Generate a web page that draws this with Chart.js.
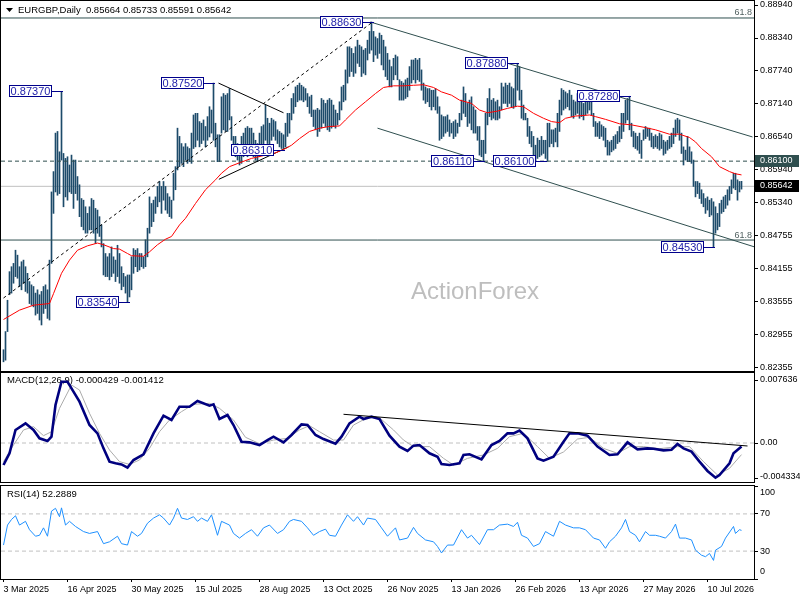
<!DOCTYPE html>
<html><head><meta charset="utf-8">
<script src="https://cdn.jsdelivr.net/npm/chart.js@4.4.1/dist/chart.umd.min.js"></script>
<style>
html,body{margin:0;padding:0;background:#fff;}
#wrap{position:relative;width:800px;height:600px;overflow:hidden;background:#fff;}
canvas{position:absolute;left:0;}
</style></head><body>
<div id="wrap">
<canvas id="cMain" width="800" height="372" style="top:0px"></canvas>
<canvas id="cMacd" width="800" height="111" style="top:372px"></canvas>
<canvas id="cRsi" width="800" height="116" style="top:484px"></canvas>
</div>
<script>
// ---------------- DATA ----------------
const dateLabels = ['3 Mar 2025','16 Apr 2025','30 May 2025','15 Jul 2025','28 Aug 2025','13 Oct 2025','26 Nov 2025','13 Jan 2026','26 Feb 2026','13 Apr 2026','27 May 2026','10 Jul 2026'];
const dateTickIdx = [0,32,64,96,128,160,192,224,256,288,320,352];
const priceTicks = [0.8894,0.8834,0.8774,0.8714,0.8654,0.8594,0.8534,0.84755,0.84155,0.83555,0.82955,0.82355];
const macdTicks = [0.007636,0,-0.004334];
const rsiTicks = [100,70,30,0];

const highs = [
.8267,.8300,.8357,.8409,.8418,.8424,.8448,.8439,.8418,.8427,
.8430,.8418,.8406,.8391,.8385,.8382,.8370,.8376,.8367,.8373,
.8382,.8385,.8376,.8430,.8554,.8591,.8661,.8664,.8627,.8737,
.8624,.8615,.8618,.8603,.8621,.8612,.8612,.8582,.8567,.8542,
.8539,.8527,.8515,.8527,.8542,.8539,.8524,.8521,.8509,.8494,
.8460,.8442,.8436,.8442,.8454,.8436,.8430,.8457,.8442,.8418,
.8406,.8400,.8403,.8403,.8436,.8451,.8448,.8451,.8442,.8442,
.8436,.8467,.8488,.8545,.8533,.8539,.8545,.8564,.8573,.8564,
.8573,.8564,.8551,.8545,.8539,.8588,.8600,.8670,.8655,.8642,
.8636,.8642,.8636,.8633,.8661,.8694,.8697,.8697,.8682,.8679,
.8685,.8673,.8691,.8709,.8703,.8752,.8679,.8658,.8658,.8727,
.8733,.8730,.8733,.8742,.8691,.8655,.8655,.8642,.8636,.8655,
.8661,.8670,.8673,.8670,.8670,.8661,.8648,.8642,.8661,.8673,
.8676,.8712,.8688,.8679,.8688,.8685,.8682,.8667,.8664,.8661,
.8658,.8679,.8697,.8697,.8724,.8733,.8745,.8748,.8752,.8748,
.8745,.8742,.8733,.8727,.8730,.8703,.8703,.8706,.8703,.8724,
.8721,.8715,.8721,.8724,.8721,.8712,.8703,.8697,.8718,.8745,
.8748,.8776,.8818,.8818,.8815,.8806,.8818,.8830,.8821,.8818,
.8812,.8815,.8830,.8846,.8863,.8846,.8836,.8833,.8843,.8839,
.8830,.8818,.8806,.8794,.8782,.8797,.8803,.8800,.8758,.8755,
.8752,.8758,.8761,.8782,.8794,.8794,.8797,.8794,.8797,.8776,
.8752,.8745,.8742,.8742,.8739,.8739,.8742,.8727,.8709,.8694,
.8691,.8691,.8694,.8685,.8679,.8682,.8685,.8679,.8697,.8721,
.8745,.8733,.8715,.8721,.8727,.8709,.8703,.8673,.8673,.8648,
.8648,.8697,.8724,.8742,.8721,.8724,.8718,.8721,.8709,.8752,
.8745,.8752,.8748,.8752,.8745,.8742,.8779,.8788,.8782,.8739,
.8712,.8697,.8688,.8673,.8664,.8655,.8639,.8652,.8648,.8655,
.8648,.8648,.8679,.8679,.8667,.8667,.8670,.8697,.8721,.8742,
.8739,.8736,.8733,.8739,.8730,.8721,.8718,.8733,.8727,.8721,
.8715,.8721,.8721,.8724,.8730,.8697,.8682,.8679,.8682,.8676,
.8673,.8670,.8648,.8645,.8648,.8655,.8658,.8664,.8673,.8697,
.8697,.8721,.8724,.8728,.8679,.8664,.8661,.8655,.8661,.8648,
.8667,.8673,.8670,.8670,.8661,.8655,.8658,.8655,.8661,.8658,
.8648,.8645,.8648,.8655,.8661,.8670,.8685,.8688,.8685,.8661,
.8636,.8630,.8655,.8636,.8627,.8612,.8573,.8573,.8570,.8558,
.8551,.8542,.8545,.8539,.8542,.8536,.8527,.8515,.8533,.8539,
.8545,.8548,.8558,.8564,.8576,.8588,.8588,.8576,.8573,.85733];

const lows = [
.8245,.8248,.8300,.8367,.8370,.8388,.8400,.8397,.8382,.8376,
.8388,.8373,.8370,.8351,.8348,.8345,.8330,.8333,.8321,.8312,
.8333,.8342,.8324,.8321,.8424,.8515,.8554,.8548,.8551,.8612,
.8527,.8545,.8539,.8554,.8551,.8524,.8551,.8539,.8509,.8491,
.8485,.8479,.8479,.8485,.8485,.8479,.8460,.8479,.8473,.8454,
.8403,.8400,.8400,.8394,.8400,.8406,.8391,.8400,.8388,.8376,
.8382,.8370,.8354,.8363,.8376,.8406,.8418,.8409,.8412,.8418,
.8415,.8418,.8436,.8479,.8491,.8500,.8515,.8527,.8536,.8515,
.8539,.8521,.8515,.8509,.8506,.8539,.8558,.8594,.8600,.8606,
.8600,.8612,.8606,.8609,.8606,.8633,.8636,.8648,.8636,.8642,
.8648,.8636,.8648,.8654,.8661,.8648,.8636,.8609,.8609,.8661,
.8667,.8664,.8664,.8685,.8648,.8624,.8618,.8612,.8603,.8606,
.8618,.8624,.8618,.8627,.8636,.8618,.8612,.8609,.8618,.8630,
.8636,.8648,.8642,.8636,.8648,.8655,.8648,.8642,.8636,.8633,
.8633,.8636,.8655,.8661,.8685,.8697,.8709,.8718,.8721,.8721,
.8718,.8721,.8709,.8697,.8691,.8673,.8667,.8655,.8664,.8670,
.8679,.8673,.8667,.8664,.8670,.8673,.8670,.8676,.8685,.8703,
.8718,.8721,.8752,.8764,.8773,.8764,.8770,.8788,.8782,.8764,
.8770,.8767,.8794,.8806,.8812,.8791,.8803,.8797,.8806,.8785,
.8776,.8764,.8758,.8745,.8745,.8758,.8767,.8758,.8721,.8721,
.8721,.8724,.8727,.8739,.8752,.8758,.8752,.8758,.8755,.8739,
.8721,.8715,.8718,.8709,.8703,.8709,.8703,.8697,.8648,.8651,
.8655,.8661,.8664,.8655,.8661,.8651,.8655,.8661,.8673,.8685,
.8697,.8691,.8673,.8679,.8667,.8661,.8661,.8648,.8621,.8618,
.8611,.8624,.8676,.8691,.8685,.8688,.8685,.8685,.8688,.8703,
.8715,.8715,.8709,.8715,.8709,.8706,.8709,.8739,.8721,.8688,
.8685,.8685,.8655,.8642,.8636,.8621,.8612,.8615,.8618,.8621,
.8624,.8615,.8610,.8636,.8642,.8636,.8645,.8636,.8664,.8694,
.8703,.8706,.8709,.8703,.8691,.8688,.8694,.8697,.8688,.8691,
.8685,.8694,.8697,.8703,.8694,.8673,.8655,.8655,.8651,.8655,
.8648,.8636,.8621,.8621,.8627,.8630,.8633,.8642,.8645,.8651,
.8664,.8679,.8685,.8667,.8655,.8636,.8633,.8630,.8624,.8615,
.8648,.8651,.8655,.8648,.8636,.8633,.8636,.8633,.8630,.8633,
.8621,.8624,.8630,.8633,.8636,.8642,.8655,.8661,.8648,.8624,
.8603,.8612,.8609,.8609,.8606,.8564,.8545,.8551,.8542,.8533,
.8527,.8515,.8521,.8509,.8512,.8453,.8479,.8485,.8491,.8515,
.8518,.8524,.8530,.8539,.8551,.8561,.8558,.8539,.8554,.85591];

const maIdx = [0,8,15,23,25,29,33,37,42,47,50,55,58,62,64,70,73,77,81,84,88,91,96,101,106,109,113,118,124,131,136,141,144,148,153,158,163,168,171,176,181,186,190,195,200,205,210,215,219,224,228,234,238,242,247,252,257,260,265,270,274,278,281,286,293,296,301,308,314,321,326,333,338,343,346,349,354,358,363,366,369];
const maVal = [.8322,.8339,.8348,.8351,.8369,.8406,.8430,.8448,.8456,.8461,.8458,.8451,.8450,.8442,.8438,.8437,.8445,.8458,.8468,.8473,.8494,.8506,.8533,.8558,.8576,.8588,.8600,.8607,.8615,.8621,.8625,.8633,.8639,.8651,.8664,.8670,.8673,.8674,.8685,.8703,.8718,.8733,.8744,.8747,.8747,.8748,.8749,.8744,.8736,.8730,.8721,.8715,.8703,.8698,.8701,.8706,.8710,.8709,.8697,.8688,.8682,.8680,.8688,.8692,.8694,.8691,.8686,.8678,.8676,.8671,.8667,.8659,.8659,.8653,.8645,.8633,.8618,.8600,.8591,.8587,.8585];

const macdIdx = [0,3,6,11,15,18,22,24,26,29,32,34,38,43,47,50,53,56,59,62,65,70,75,80,84,88,93,97,103,105,108,112,115,119,123,128,132,135,140,144,149,152,156,160,166,169,173,178,180,184,188,193,198,202,205,208,213,217,219,223,228,230,233,239,244,248,252,255,258,262,267,270,275,280,283,287,292,297,303,307,312,317,322,325,330,334,337,340,344,348,352,356,358,363,365,369];
const macdVal = [-0.00267,-0.00125,0.00158,0.00238,0.00158,0.00057,0.00024,0.00077,0.00461,0.00743,0.00743,0.00663,0.00501,0.00218,0.00117,-0.00065,-0.00226,-0.00246,-0.00259,-0.00299,-0.00206,-0.00137,0.00117,0.00331,0.00279,0.00440,0.00440,0.00509,0.00453,0.00469,0.00291,0.00339,0.00218,0.00016,0.00008,-0.00024,0.00036,0.00077,0.00008,0.00097,0.00226,0.00218,0.00097,0.00048,-0.00008,0.00077,0.00238,0.00319,0.00291,0.00319,0.00291,0.00089,-0.00044,-0.00097,-0.00032,-0.00024,-0.00125,-0.00166,-0.00255,-0.00267,-0.00246,-0.00145,-0.00137,-0.00198,-0.00024,0.00024,0.00117,0.00117,0.00150,0.00057,-0.00186,-0.00214,-0.00166,0.00016,0.00117,0.00117,0.00089,-0.00044,-0.00145,-0.00137,0.00008,-0.00077,-0.00065,-0.00069,-0.00089,-0.00081,-0.00012,-0.00065,-0.00105,-0.00226,-0.00339,-0.00420,-0.00388,-0.00246,-0.00125,-0.00043];

const sigIdx = [0,5,10,15,20,24,28,34,38,43,48,53,58,63,68,73,78,83,89,95,103,108,115,121,128,135,142,148,153,158,165,170,175,182,188,195,200,205,213,220,225,232,240,247,253,260,267,273,280,287,293,300,307,313,320,328,337,343,350,357,363,369];
const sigVal = [-0.00226,-0.00024,0.00158,0.00198,0.00089,0.00137,0.00420,0.00703,0.00642,0.00360,0.00117,-0.00085,-0.00226,-0.00259,-0.00206,-0.00065,0.00137,0.00279,0.00380,0.00469,0.00481,0.00420,0.00279,0.00069,-0.00008,0.00036,0.00057,0.00158,0.00210,0.00137,0.00036,0.00036,0.00218,0.00307,0.00307,0.00158,0.00036,-0.00044,-0.00044,-0.00186,-0.00267,-0.00186,-0.00145,-0.00065,0.00077,0.00117,-0.00044,-0.00186,-0.00109,0.00048,0.00069,-0.00065,-0.00125,-0.00044,-0.00044,-0.00069,-0.00044,-0.00044,-0.00226,-0.00388,-0.00307,-0.00141];

const rsiIdx = [0,2,4,6,8,11,13,16,18,20,22,24,26,28,29,31,33,36,40,43,47,50,53,57,59,62,64,67,69,72,75,78,80,83,85,87,89,92,95,97,99,102,104,107,109,113,115,118,121,124,127,130,133,137,140,143,145,149,152,155,158,161,163,166,169,172,175,177,180,182,186,189,192,196,198,202,205,207,211,215,217,219,222,225,229,232,234,238,242,245,248,252,255,257,259,262,265,268,271,275,278,281,285,288,291,295,298,301,303,306,309,311,313,316,318,321,323,326,328,331,334,336,338,341,344,346,349,351,353,355,356,359,361,365,366,368,369];
const rsiVal = [36.5,58,64,68,58,62,53,46,47,55,46,73,76,67,76.5,58,62,56.5,51,49,51,38,40,46,38,36.5,51,46,49,60,65.5,69,65.5,58,65.5,76,65.5,64,67,62,65.5,62,69,47,62,58,49,44,49,53,46,55,58,49,53,62,64,62,55,47,51,53.6,47,46,58,69,62,67,58,65.5,64,55,46,55,42,44,55.5,49,42,40,35,28,36.5,36.5,53,44,47,37,53,53,58,59,56.5,61,47,44,35,38,51,46,62,58,55,55,53,44,42,33,40,46,55,64,51,47,40,51,47,47,46,44,51,59,44,44,42,31,25.6,24,27.5,20,31,35,44,56.5,49,53,52.29];

// drawn objects (index, price)
const riseLine = [[0,0.8361],[184.5,0.8863]];
const triUpper = [[107.5,0.8752],[140,0.8698]];
const triLower = [[107.7,0.8577],[142.5,0.8636]];
const chanUpper = [[183.5,0.8863],[374.5,0.8654]];
const chanLower = [[187,0.8670],[375.5,0.8454]];
const fibLevels = [0.88704,0.84665];
const supportLevel = 0.8610;
const lastPrice = 0.85642;
const macdTrend = [[170,0.00348],[372,-0.00036]];
const labelIdx = [29,105,184.5,140,62.5,240,271,257,313,355];
const labelPrice = [0.8737,0.8752,0.8863,0.8631,0.8354,0.8611,0.8610,0.8788,0.8728,0.8453];
const headerMain = 'EURGBP,Daily  0.85664 0.85733 0.85591 0.85642';
const headerMacd = 'MACD(12,26,9) -0.000429 -0.001412';
const headerRsi = 'RSI(14) 52.2889';

// ---------------- LAYOUT / STYLE ----------------
const FONT = '"Liberation Sans", Arial, sans-serif';
const X_MIN = -1.25, X_MAX = 375.25;
const P_MIN = 0.82283, P_MAX = 0.89013;
const M_MIN = -0.004727, M_MAX = 0.008485;
const pts = arr => arr.map(p => ({x:p[0], y:p[1]}));
const hline = v => [{x:X_MIN,y:v},{x:X_MAX,y:v}];
const lineDs = (data, color, extra) => Object.assign({type:'line', data, borderColor:color, borderWidth:1, pointRadius:0, fill:false, tension:0}, extra||{});

function xScale(show){
  return {
    type:'linear', min:X_MIN, max:X_MAX, offset:false, display:show,
    grid:{display:show, drawOnChartArea:false, drawTicks:true, tickLength:3, color:'#000', offset:false},
    border:{display:false},
    afterBuildTicks: s => { s.ticks = dateTickIdx.map(v => ({value:v})); },
    afterFit: s => { s.height = show ? 21 : 0; },
    ticks:{autoSkip:false, maxRotation:0, minRotation:0, align:'start', padding:2, color:'#000',
      font:{family:FONT, size:9},
      callback: v => { const k = dateTickIdx.indexOf(v); return k >= 0 ? dateLabels[k] : ''; }}
  };
}
function yScale(min, max, ticks){
  return {
    type:'linear', position:'right', min, max, beginAtZero:false,
    afterBuildTicks: s => { s.ticks = ticks.map(v => ({value:v})); },
    afterFit: s => { s.width = 46; },
    ticks:{display:false},
    grid:{drawOnChartArea:false, drawTicks:true, tickLength:4, color:'#000'},
    border:{display:false}
  };
}
function baseOptions(xShow, ymin, ymax, yt, pad){
  return {
    responsive:false, animation:false, devicePixelRatio:1, events:[],
    layout:{padding:pad},
    plugins:{legend:{display:false}, tooltip:{enabled:false}},
    scales:{x:xScale(xShow), y:yScale(ymin, ymax, yt)}
  };
}
function drawBorder(ctx, a){
  ctx.strokeStyle = '#000'; ctx.lineWidth = 1;
  ctx.strokeRect(a.left - 0.5, a.top - 0.5, a.right - a.left + 1, a.bottom - a.top + 1);
}
function drawAxisLabels(chart, fmt, margin){
  const s = chart.scales.y, ctx = chart.ctx, a = chart.chartArea;
  ctx.font = '9px ' + FONT; ctx.fillStyle = '#000'; ctx.textBaseline = 'middle'; ctx.textAlign = 'left';
  s.ticks.forEach(t => {
    let y = s.getPixelForValue(t.value);
    y = Math.min(Math.max(y, a.top + margin), a.bottom - margin);
    ctx.fillText(fmt(t.value), a.right + 6, y);
  });
}

// ---------------- MAIN PRICE PANE ----------------
const mainOverlay = {
  id:'mainOverlay',
  beforeDatasetsDraw(chart){
    const ctx = chart.ctx; ctx.save();
    ctx.font = '24px ' + FONT; ctx.fillStyle = '#BEBEBE'; ctx.textAlign = 'center'; ctx.textBaseline = 'middle';
    ctx.fillText('ActionForex', 475, 292);
    ctx.restore();
  },
  afterDraw(chart){
    const ctx = chart.ctx, a = chart.chartArea, xs = chart.scales.x, ys = chart.scales.y;
    ctx.save();
    drawBorder(ctx, a);
    // header
    ctx.fillStyle = '#000';
    ctx.beginPath(); ctx.moveTo(6,8); ctx.lineTo(13,8); ctx.lineTo(9.5,12); ctx.closePath(); ctx.fill();
    ctx.font = '9.5px ' + FONT; ctx.textBaseline = 'middle'; ctx.textAlign = 'left';
    ctx.fillText(headerMain, 18, 10);
    // fib labels
    ctx.fillStyle = '#4F5F5F'; ctx.font = '9px ' + FONT; ctx.textAlign = 'right';
    fibLevels.forEach(v => ctx.fillText('61.8', a.right - 2, ys.getPixelForValue(v) - 5));
    // price labels
    ctx.font = '11px ' + FONT; ctx.textAlign = 'center';
    labelIdx.forEach((ix, k) => {
      const px = Math.round(xs.getPixelForValue(ix));
      const py = Math.round(ys.getPixelForValue(labelPrice[k])) + 0.5;
      const right = px - 10, w = 43, h = 12;
      ctx.strokeStyle = '#00008B'; ctx.lineWidth = 1;
      ctx.beginPath(); ctx.moveTo(right, py); ctx.lineTo(px + 1, py); ctx.stroke();
      ctx.fillStyle = '#FFFFFF'; ctx.fillRect(right - w, py - 6.5, w, h);
      ctx.strokeRect(right - w + 0.5, py - 6, w - 1, h - 1);
      ctx.fillStyle = '#1C1CA8'; ctx.textBaseline = 'middle';
      ctx.fillText(labelPrice[k].toFixed(5), right - w / 2, py);
    });
    // axis labels
    drawAxisLabels(chart, v => v.toFixed(5), 0);
    // highlighted axis labels
    [[supportLevel,'#2F4F4F'],[lastPrice,'#000000']].forEach(([v, bg]) => {
      const y = Math.round(ys.getPixelForValue(v));
      ctx.fillStyle = bg; ctx.fillRect(a.right + 1, y - 6, 44, 12);
      ctx.fillStyle = '#FFFFFF'; ctx.font = '9px ' + FONT; ctx.textAlign = 'left'; ctx.textBaseline = 'middle';
      ctx.fillText(v.toFixed(5), a.right + 6, y);
    });
    ctx.restore();
  }
};

new Chart(document.getElementById('cMain'), {
  type:'bar',
  data:{datasets:[
    lineDs(maIdx.map((x,k) => ({x, y:maVal[k]})), '#FF0000', {order:1}),
    lineDs(pts(riseLine), '#000000', {borderDash:[3,3], order:2}),
    lineDs(pts(triUpper), '#000000', {order:2}),
    lineDs(pts(triLower), '#000000', {order:2}),
    lineDs(pts(chanUpper), '#2F4F4F', {order:2}),
    lineDs(pts(chanLower), '#2F4F4F', {order:2}),
    lineDs(hline(fibLevels[0]), '#2F4F4F', {order:3}),
    lineDs(hline(fibLevels[1]), '#2F4F4F', {order:3}),
    lineDs(hline(supportLevel), '#2F4F4F', {borderDash:[4,3], order:3}),
    lineDs(hline(lastPrice), '#C0C0C0', {order:6}),
    {type:'bar', data: highs.map((h,i) => ({x:i, y:[lows[i], h]})), backgroundColor:'#1D4B6A',
     barThickness:1, borderWidth:0, borderSkipped:false, order:5}
  ]},
  options: baseOptions(false, P_MIN, P_MAX, priceTicks, {left:1, right:0, top:1, bottom:1}),
  plugins:[mainOverlay]
});

// ---------------- MACD PANE ----------------
const macdOverlay = {
  id:'macdOverlay',
  beforeDatasetsDraw(chart){
    const ctx = chart.ctx; ctx.save();
    ctx.fillStyle = '#000'; ctx.font = '9.5px ' + FONT; ctx.textBaseline = 'middle'; ctx.textAlign = 'left';
    ctx.fillText(headerMacd, 7, 8);
    ctx.restore();
  },
  afterDraw(chart){
    const ctx = chart.ctx; ctx.save();
    drawBorder(ctx, chart.chartArea);
    drawAxisLabels(chart, v => v === 0 ? '0.00' : v.toFixed(6), 5);
    ctx.restore();
  }
};
new Chart(document.getElementById('cMacd'), {
  type:'line',
  data:{datasets:[
    lineDs(hline(0), '#C0C0C0', {borderDash:[4,3], order:4}),
    lineDs(sigIdx.map((x,k) => ({x, y:sigVal[k]})), '#ABABAB', {order:3}),
    lineDs(macdIdx.map((x,k) => ({x, y:macdVal[k]})), '#00007F', {borderWidth:2.6, order:2}),
    lineDs(pts(macdTrend), '#000000', {order:1})
  ]},
  options: baseOptions(false, M_MIN, M_MAX, macdTicks, {left:1, right:0, top:1, bottom:1}),
  plugins:[macdOverlay]
});

// ---------------- RSI PANE ----------------
const rsiOverlay = {
  id:'rsiOverlay',
  afterDraw(chart){
    const ctx = chart.ctx; ctx.save();
    drawBorder(ctx, chart.chartArea);
    ctx.fillStyle = '#000'; ctx.font = '9.5px ' + FONT; ctx.textBaseline = 'middle'; ctx.textAlign = 'left';
    ctx.fillText(headerRsi, 7, 10);
    drawAxisLabels(chart, v => String(v), 7);
    ctx.restore();
  }
};
new Chart(document.getElementById('cRsi'), {
  type:'line',
  data:{datasets:[
    lineDs(hline(70), '#C0C0C0', {borderDash:[4,3], order:3}),
    lineDs(hline(30), '#C0C0C0', {borderDash:[4,3], order:3}),
    lineDs(rsiIdx.map((x,k) => ({x, y:rsiVal[k]})), '#1E90FF', {order:1})
  ]},
  options: baseOptions(true, 0, 100, rsiTicks, {left:1, right:0, top:2, bottom:0}),
  plugins:[rsiOverlay]
});
</script>
</body></html>
